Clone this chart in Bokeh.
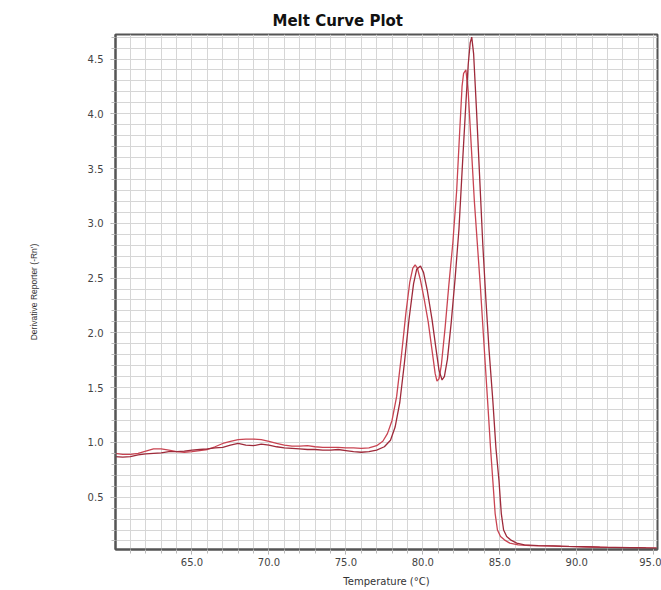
from bokeh.plotting import figure
from bokeh.models import SingleIntervalTicker, NumeralTickFormatter, Range1d
from bokeh.embed import file_html
from bokeh.resources import INLINE

# Melt curve derivative data for two wells (temperature in °C, -dRn/dT)
temp_a = [60.0, 60.5, 61.0, 61.5, 62.0, 62.5, 63.0, 63.5, 64.0, 64.5, 65.0, 65.5,
          66.0, 66.5, 67.0, 67.5, 68.0, 68.5, 69.0, 69.5, 70.0, 70.5, 71.0, 71.5,
          72.0, 72.5, 73.0, 73.5, 74.0, 74.5, 75.0, 75.5, 76.0, 76.5, 77.0, 77.4,
          77.7, 78.0, 78.3, 78.6, 78.9, 79.15, 79.35, 79.5, 79.65, 79.85, 80.1, 80.35,
          80.6, 80.8, 80.92, 81.05, 81.2, 81.45, 81.7, 81.95, 82.2, 82.4, 82.55, 82.65,
          82.8, 82.95, 83.15, 83.35, 83.55, 83.75, 83.95, 84.2, 84.4, 84.55, 84.7, 84.85,
          85.05, 85.3, 85.65, 86.2, 87.0, 88.0, 89.0, 90.0, 91.0, 92.0, 93.0, 94.0, 95.2]
deriv_a = [0.90, 0.89, 0.89, 0.90, 0.92, 0.94, 0.94, 0.93, 0.915, 0.91, 0.915, 0.925,
           0.935, 0.96, 0.99, 1.01, 1.025, 1.03, 1.03, 1.025, 1.01, 0.99, 0.975, 0.965,
           0.965, 0.97, 0.96, 0.955, 0.955, 0.955, 0.95, 0.95, 0.945, 0.95, 0.97, 1.01,
           1.08, 1.20, 1.42, 1.78, 2.18, 2.46, 2.59, 2.62, 2.59, 2.48, 2.30, 2.10,
           1.84, 1.63, 1.56, 1.58, 1.70, 2.05, 2.45, 2.82, 3.30, 3.85, 4.25, 4.37,
           4.40, 4.20, 3.70, 3.20, 2.80, 2.40, 1.95, 1.40, 0.95, 0.65, 0.35, 0.20,
           0.14, 0.11, 0.08, 0.065, 0.058, 0.055, 0.05, 0.048, 0.045, 0.042, 0.04, 0.038, 0.035]

temp_b = [60.0, 60.5, 61.0, 61.5, 62.0, 62.5, 63.0, 63.5, 64.0, 64.5, 65.0, 65.5,
          66.0, 66.5, 67.0, 67.5, 68.0, 68.5, 69.0, 69.5, 70.0, 70.5, 71.0, 71.5,
          72.0, 72.5, 73.0, 73.5, 74.0, 74.5, 75.0, 75.5, 76.0, 76.5, 77.0, 77.5,
          77.9, 78.2, 78.5, 78.8, 79.1, 79.4, 79.6, 79.85, 80.05, 80.3, 80.6, 80.85,
          81.05, 81.25, 81.4, 81.6, 81.85, 82.1, 82.35, 82.6, 82.8, 82.95, 83.08, 83.18,
          83.3, 83.5, 83.7, 83.9, 84.1, 84.3, 84.55, 84.75, 84.95, 85.1, 85.25, 85.45,
          85.7, 86.1, 86.6, 87.5, 88.5, 89.5, 90.5, 91.5, 92.5, 93.5, 94.5, 95.2]
deriv_b = [0.87, 0.865, 0.87, 0.885, 0.895, 0.90, 0.905, 0.915, 0.915, 0.92, 0.93, 0.935,
           0.94, 0.95, 0.955, 0.975, 0.99, 0.975, 0.97, 0.985, 0.975, 0.96, 0.95, 0.945,
           0.94, 0.935, 0.935, 0.93, 0.93, 0.935, 0.925, 0.915, 0.91, 0.915, 0.93, 0.96,
           1.02, 1.14, 1.36, 1.72, 2.12, 2.45, 2.58, 2.61, 2.55, 2.38, 2.12, 1.86,
           1.66, 1.57, 1.60, 1.76, 2.10, 2.50, 2.95, 3.60, 4.10, 4.45, 4.65, 4.70,
           4.55, 4.00, 3.40, 2.80, 2.30, 1.85, 1.38, 0.95, 0.65, 0.35, 0.20, 0.14,
           0.11, 0.08, 0.065, 0.058, 0.055, 0.05, 0.047, 0.044, 0.042, 0.04, 0.036, 0.034]

GRID = "#d6d6d6"
FRAME = "#555555"
TICK_FONT = "DejaVu Sans"

p = figure(width=661, height=590, output_backend="svg", toolbar_location=None,
           x_range=Range1d(60.03, 95.25), y_range=Range1d(0.022, 4.724),
           min_border_left=115, min_border_right=4, min_border_top=34,
           min_border_bottom=41, title="Melt Curve Plot")

p.title.text_font = "DejaVu Sans"
p.title.text_font_style = "bold"
p.title.text_font_size = "15px"
p.title.text_color = "#111111"
p.title.align = "left"
p.title.offset = 157

p.line(temp_a, deriv_a, line_color="#c94452", line_width=1.3)
p.line(temp_b, deriv_b, line_color="#9e2a3a", line_width=1.3)

p.xaxis.ticker = SingleIntervalTicker(interval=5, num_minor_ticks=5)
p.yaxis.ticker = SingleIntervalTicker(interval=0.5, num_minor_ticks=5)
p.xaxis.formatter = NumeralTickFormatter(format="0.0")
p.yaxis.formatter = NumeralTickFormatter(format="0.0")

for ax in (p.xaxis[0], p.yaxis[0]):
    ax.axis_line_color = FRAME
    ax.axis_line_width = 2
    ax.major_tick_in = 0
    ax.major_tick_out = 5
    ax.minor_tick_in = 0
    ax.minor_tick_out = 4
    ax.major_tick_line_color = "#aaaaaa"
    ax.minor_tick_line_color = "#bbbbbb"
    ax.major_label_text_font = TICK_FONT
    ax.major_label_text_font_size = "10px"
    ax.major_label_text_color = "#444444"
    ax.axis_label_text_font_style = "normal"
    ax.axis_label_text_color = "#333333"

p.xaxis.axis_label = "Temperature (°C)"
p.xaxis.axis_label_text_font = "DejaVu Sans"
p.xaxis.axis_label_text_font_size = "10px"
p.xaxis.major_label_standoff = 3
p.xaxis.axis_label_standoff = 7

p.yaxis.axis_label = "Derivative Reporter (-Rn')"
p.yaxis.axis_label_text_font = "Liberation Sans"
p.yaxis.axis_label_text_font_size = "8.5px"
p.yaxis.major_label_standoff = 7
p.yaxis.axis_label_standoff = 46

for g in (p.xgrid[0], p.ygrid[0]):
    g.grid_line_color = GRID
    g.grid_line_width = 1
    g.minor_grid_line_color = GRID
    g.minor_grid_line_width = 1

p.outline_line_color = FRAME
p.outline_line_width = 2
p.background_fill_color = "white"
p.border_fill_color = "white"

open("out.html", "w").write(file_html(p, INLINE))
